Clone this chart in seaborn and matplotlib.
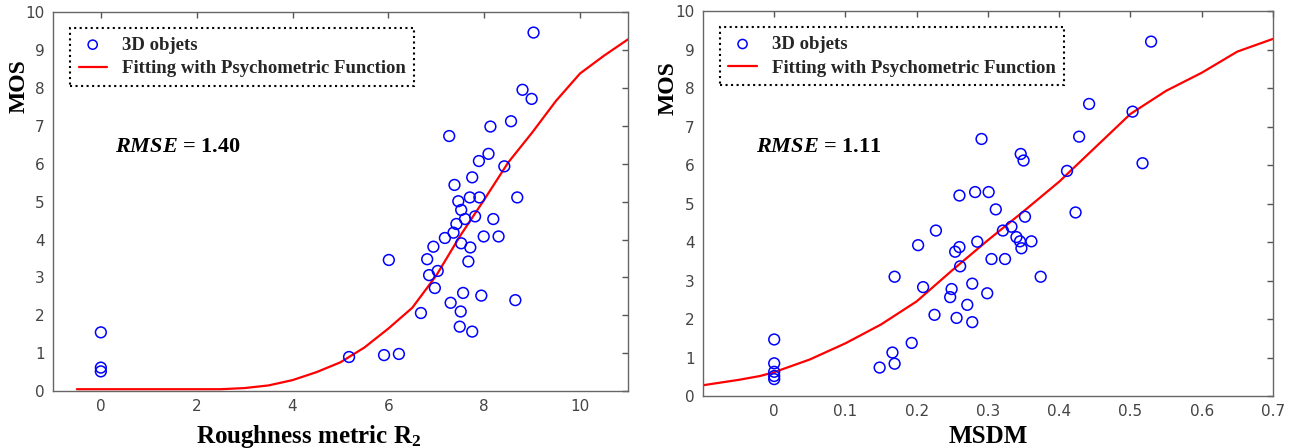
import matplotlib
matplotlib.use('Agg')
import matplotlib.pyplot as plt
import seaborn as sns

sns.set_theme(style='white')
plt.rcParams['font.family'] = ['Liberation Serif', 'DejaVu Serif']
plt.rcParams['mathtext.fontset'] = 'custom'
plt.rcParams['mathtext.rm'] = 'Liberation Serif:bold'
plt.rcParams['mathtext.it'] = 'Liberation Serif:bold:italic'
plt.rcParams['mathtext.bf'] = 'Liberation Serif:bold'

# --- left panel: roughness metric R2 vs MOS ---
rough_x = [0, 0, 0, 5.18, 5.91, 6.22, 6.01, 6.68, 6.81, 6.85, 6.94, 6.97, 7.03, 7.18, 7.27, 7.30,
           7.36, 7.38, 7.42, 7.46, 7.49, 7.51, 7.52, 7.52, 7.56, 7.60, 7.67, 7.70, 7.71, 7.75, 7.75,
           7.81, 7.89, 7.90, 7.94, 7.99, 8.09, 8.13, 8.19, 8.30, 8.42, 8.56, 8.65, 8.69, 8.80, 8.99, 9.03]
rough_mos = [1.55, 0.62, 0.52, 0.90, 0.95, 0.98, 3.46, 2.06, 3.48, 3.06, 3.81, 2.72, 3.17, 4.04, 6.73, 2.33,
             4.18, 5.44, 4.41, 5.01, 1.70, 2.10, 4.78, 3.90, 2.59, 4.54, 3.42, 5.11, 3.79, 5.64, 1.57,
             4.61, 6.07, 5.11, 2.52, 4.08, 6.26, 6.98, 4.54, 4.08, 5.93, 7.12, 2.40, 5.11, 7.95, 7.71, 9.46]
rough_fit_x = [-0.5, 0, 1, 2, 2.5, 3, 3.5, 4, 4.5, 5, 5.5, 6, 6.5, 7, 7.5, 8, 8.5, 9, 9.5, 10, 10.5, 11]
rough_fit_y = [0.05, 0.05, 0.05, 0.05, 0.05, 0.08, 0.15, 0.29, 0.50, 0.76, 1.15, 1.65, 2.20, 3.05,
               4.10, 5.05, 6.03, 6.82, 7.66, 8.38, 8.85, 9.28]

# --- right panel: MSDM vs MOS ---
msdm_x = [0, 0, 0, 0, 0, 0.148, 0.166, 0.169, 0.169, 0.193, 0.202, 0.209, 0.225, 0.227, 0.247,
          0.249, 0.254, 0.256, 0.260, 0.260, 0.261, 0.271, 0.278, 0.278, 0.282, 0.285, 0.291, 0.299,
          0.301, 0.305, 0.311, 0.321, 0.324, 0.333, 0.340, 0.345, 0.346, 0.347, 0.350, 0.352, 0.361,
          0.374, 0.411, 0.423, 0.428, 0.442, 0.503, 0.517, 0.529]
msdm_mos = [1.47, 0.85, 0.63, 0.52, 0.44, 0.74, 1.13, 0.84, 3.10, 1.38, 3.92, 2.83, 2.11, 4.30, 2.57,
            2.78, 3.75, 2.03, 5.21, 3.87, 3.37, 2.37, 2.92, 1.92, 5.30, 4.01, 6.68, 2.67,
            5.30, 3.56, 4.85, 4.30, 3.56, 4.40, 4.13, 4.02, 6.29, 3.84, 6.12, 4.66, 4.02,
            3.10, 5.85, 4.77, 6.74, 7.59, 7.39, 6.05, 9.21]
msdm_fit_x = [-0.1, -0.05, -0.02, 0, 0.05, 0.1, 0.15, 0.2, 0.25, 0.3, 0.35, 0.4, 0.45, 0.5, 0.55, 0.6, 0.65, 0.7]
msdm_fit_y = [0.28, 0.42, 0.52, 0.62, 0.95, 1.37, 1.86, 2.46, 3.27, 4.05, 4.80, 5.57, 6.45, 7.33,
              7.93, 8.40, 8.95, 9.28]

rmse_left = '1.40'
rmse_right = '1.11'

fig = plt.figure(figsize=(12.91, 4.48), dpi=100)
ax1 = fig.add_axes([0.041, 0.127, 0.4454, 0.846])
ax2 = fig.add_axes([0.5445, 0.116, 0.4415, 0.859])

panels = [
    (ax1, rough_x, rough_mos, rough_fit_x, rough_fit_y, 'Roughness metric R$_{2}$',
     (-1, 11), [0, 2, 4, 6, 8, 10], rmse_left, (0.3, 6.43), (0.445, -0.085), (-0.04, 0.805)),
    (ax2, msdm_x, msdm_mos, msdm_fit_x, msdm_fit_y, 'MSDM',
     (-0.1, 0.7), [0, 0.1, 0.2, 0.3, 0.4, 0.5, 0.6, 0.7], rmse_right, (-0.026, 6.48),
     (0.5, -0.075), (-0.042, 0.8)),
]

for ax, x, y, fx, fy, xlab, xlim, xt, rmse, tpos, xl_pos, yl_pos in panels:
    sns.scatterplot(x=x, y=y, ax=ax, marker='o', s=60, facecolor='none',
                    edgecolor='#0000ff', linewidth=1.1, label='3D objets', zorder=3)
    sns.lineplot(x=fx, y=fy, ax=ax, color='red', linewidth=1.6,
                 label='Fitting with Psychometric Function', sort=False, zorder=2)
    ax.set_xlim(*xlim)
    ax.set_ylim(0, 10)
    ax.set_xticks(xt)
    ax.set_xticklabels([('%g' % v) for v in xt])
    ax.set_yticks(range(0, 11))
    ax.tick_params(direction='in', length=4, width=1, colors='#555555',
                   top=True, right=True, labelsize=11, pad=6)
    for lab in ax.get_xticklabels() + ax.get_yticklabels():
        lab.set_family('DejaVu Sans')
        lab.set_color('#444444')
    for sp in ax.spines.values():
        sp.set_color('#666666')
        sp.set_linewidth(1)
    ax.set_xlabel(xlab, fontsize=18, fontweight='bold', color='black')
    ax.xaxis.set_label_coords(*xl_pos)
    ax.set_ylabel('MOS', fontsize=17, fontweight='bold', color='black')
    ax.yaxis.set_label_coords(*yl_pos)
    ax.text(tpos[0], tpos[1], '$RMSE$ = ' + rmse, fontsize=16, fontweight='bold',
            va='center', ha='left', color='black')
    leg = ax.legend(loc='upper left', bbox_to_anchor=(0.03, 0.958), borderaxespad=0,
                    fancybox=False, frameon=True, prop={'weight': 'bold', 'size': 13.5},
                    handlelength=1.5, borderpad=0.45, labelspacing=0.35, handletextpad=0.8,
                    markerscale=0.85)
    frame = leg.get_frame()
    frame.set_edgecolor('black')
    frame.set_linestyle(':')
    frame.set_linewidth(1.5)
    frame.set_alpha(1)

fig.savefig('out.png', dpi=100)
